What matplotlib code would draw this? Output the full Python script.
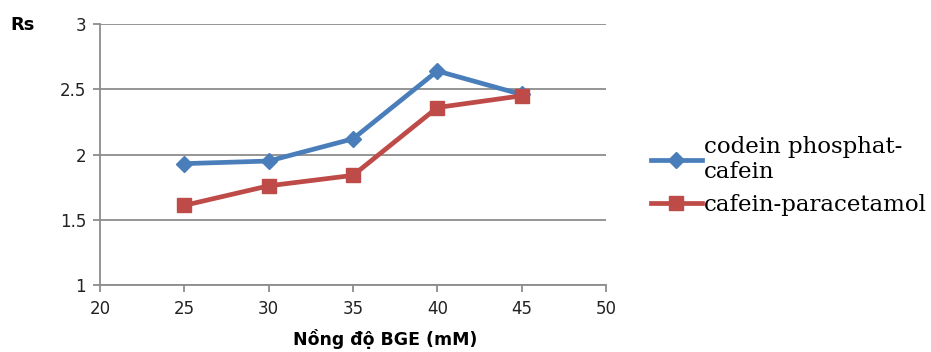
import matplotlib
matplotlib.use("Agg")
import matplotlib.pyplot as plt
from matplotlib.lines import Line2D

x_vals = [25, 30, 35, 40, 45]
codein_cafein = [1.93, 1.95, 2.12, 2.64, 2.46]
cafein_paracetamol = [1.61, 1.76, 1.84, 2.36, 2.45]
series_names = ["codein phosphat-\ncafein", "cafein-paracetamol"]
x_ticks = [20, 25, 30, 35, 40, 45, 50]
y_ticks = [1, 1.5, 2, 2.5, 3]
y_tick_labels = ["1", "1.5", "2", "2.5", "3"]

W, H = 931, 352
fig = plt.figure(figsize=(W / 100, H / 100), dpi=100)
ax = fig.add_axes([100 / W, 1 - 285 / H, 506 / W, 261 / H])

blue = "#4a7ebb"
red = "#be4b48"
grid = "#8c8c8c"

ax.plot(x_vals, codein_cafein, color=blue, lw=3.4, marker="D", ms=8, zorder=3)
ax.plot(x_vals, cafein_paracetamol, color=red, lw=3.4, marker="s", ms=10, zorder=3)

ax.set_xlim(20, 50)
ax.set_ylim(1, 3)
ax.set_xticks(x_ticks)
ax.set_yticks(y_ticks)
ax.set_yticklabels(y_tick_labels)
ax.yaxis.grid(True, color=grid, lw=1.3)
ax.set_axisbelow(True)
for s in ["top", "right"]:
    ax.spines[s].set_visible(False)
for s in ["left", "bottom"]:
    ax.spines[s].set_color(grid)
    ax.spines[s].set_linewidth(1.3)
ax.tick_params(axis="both", colors=grid, length=5, width=1.3, direction="out",
               labelsize=12, labelcolor="#222222")
ax.tick_params(axis="x", pad=6)
ax.tick_params(axis="y", pad=5)
for lab in ax.get_xticklabels() + ax.get_yticklabels():
    lab.set_family("DejaVu Sans")

fig.text(10 / W, 1 - 25 / H, "Rs", fontsize=13, fontweight="bold",
         family="DejaVu Sans", ha="left", va="center")
fig.text(385 / W, 1 - 339 / H, "Nồng độ BGE (mM)", fontsize=12.5, fontweight="bold",
         family="DejaVu Sans", ha="center", va="center")

handles = [Line2D([], [], color=blue, lw=3.4, marker="D", ms=8),
           Line2D([], [], color=red, lw=3.4, marker="s", ms=10)]
leg = fig.legend(handles, series_names, loc="upper left",
                 bbox_to_anchor=(642 / W, 1 - 127 / H), frameon=False,
                 prop={"family": "DejaVu Serif", "size": 16.5},
                 handlelength=2.2, handletextpad=0.1, labelspacing=0.5,
                 borderaxespad=0)
for t in leg.get_texts():
    t.set_linespacing(1.15)

fig.savefig("out.png", dpi=100)
